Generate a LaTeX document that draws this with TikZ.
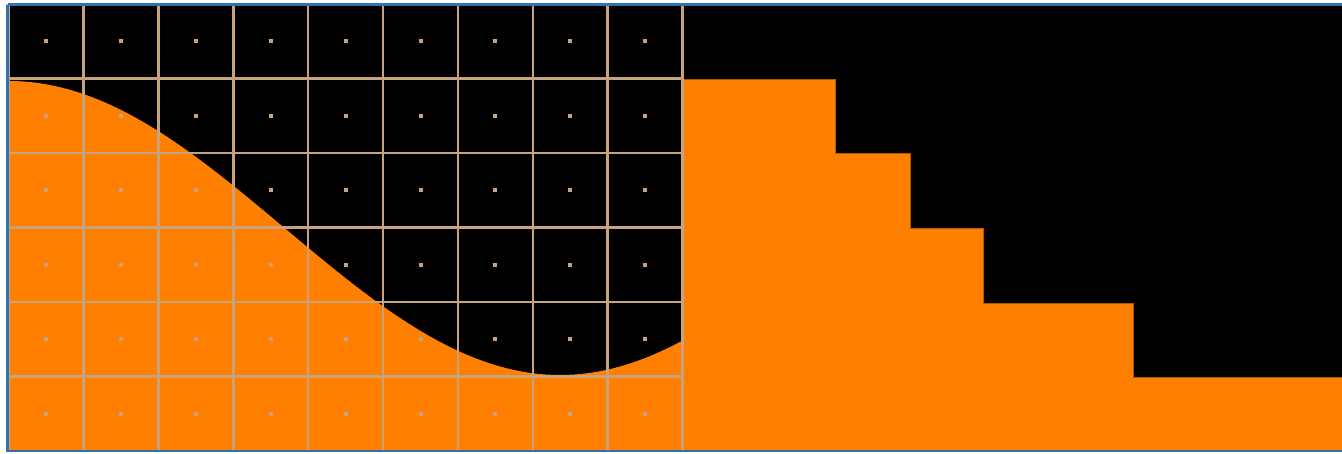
\documentclass[tikz,border=0pt]{standalone}
\usepackage{xcolor}
\usepackage{tikz}

\definecolor{sigorange}{HTML}{FF8000}
\definecolor{gridtan}{HTML}{C8A27C}
\definecolor{framblue}{HTML}{2E72B0}

\begin{document}
\begin{tikzpicture}[
    x=1pt, y=-1pt,
    screen/.style={fill=black},
    signal/.style={fill=sigorange},
    steps/.style={fill=sigorange, draw=sigorange!70!black, line width=0.6pt},
    gridline/.style={draw=gridtan, line width=2.6pt},
    gridmark/.style={fill=gridtan},
    frame/.style={draw=framblue, line width=2.5pt}
  ]
    \useasboundingbox (0,0) rectangle (1342,453);
    % black display area
    \fill[screen] (8,5) rectangle (1342,450);
    % smooth signal in the left half
    \fill[signal] (9,450) -- (9,80)
      -- plot[domain=9:683, samples=120] (\x,{228-147*cos(0.32668*(\x-9))})
      -- (683,450) -- cycle;
    % sampled staircase in the right half
    \filldraw[steps] (683,450) -- (683,79) -- (835,79) -- (835,153)
      -- (910,153) -- (910,228) -- (983,228) -- (983,303)
      -- (1133,303) -- (1133,377) -- (1342,377) -- (1342,450) -- cycle;
    % grid over the left half
    \foreach \i in {0,...,9}
      \draw[gridline] ({8.5+74.9*\i},4) -- ({8.5+74.9*\i},450);
    \foreach \j in {0,...,6}
      \draw[gridline] (8.5,{4+74.5*\j}) -- (683,{4+74.5*\j});
    \foreach \i in {0,...,8}
      \foreach \j in {0,...,5}
        \fill[gridmark] ({46+74.9*\i-2},{41+74.5*\j-2}) rectangle +(4,4);
    % outer frame
    \draw[frame] (7.5,4.5) -- (1345,4.5);
    \draw[frame] (7.5,4.5) -- (7.5,451) -- (1345,451);
  \end{tikzpicture}
\end{document}
